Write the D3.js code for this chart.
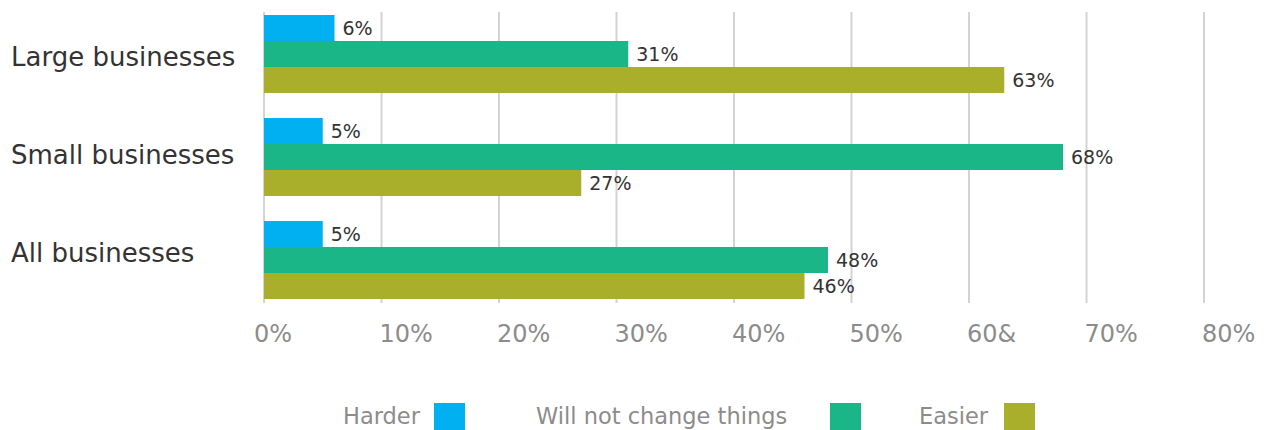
<!DOCTYPE html>
<html>
<head>
<meta charset="utf-8">
<script src="https://cdn.jsdelivr.net/npm/d3@7"></script>
<style>
  html, body { margin: 0; padding: 0; background: #ffffff; }
  svg { display: block; }
  text { font-family: "DejaVu Sans", "Open Sans", sans-serif; }
</style>
</head>
<body>
<svg id="chart" width="1269" height="430"></svg>
<script>
// Survey answers by business size
const categories = ["Large businesses", "Small businesses", "All businesses"];
const seriesNames = ["Harder", "Will not change things", "Easier"];
const harder = [6, 5, 5];
const willNotChange = [31, 68, 48];
const easier = [63, 27, 46];
const tickValues = [0, 10, 20, 30, 40, 50, 60, 70, 80];
const tickLabels = ["0%", "10%", "20%", "30%", "40%", "50%", "60&", "70%", "80%"];

const colors = ["#00b0f0", "#1bb687", "#a9ae2b"];
const seriesValues = [harder, willNotChange, easier];

const svg = d3.select("#chart");

const x = d3.scaleLinear().domain([0, 80]).range([264, 1204]);
const y = d3.scaleBand().domain(categories).range([2.5, 311.5]).paddingInner(0.243).paddingOuter(0.1215);
const ySub = d3.scaleBand().domain(seriesNames).range([0, y.bandwidth()]);
// category captions sit on their own evenly spaced baselines
const yLabel = d3.scalePoint().domain(categories).range([66, 262]);

// vertical grid lines
svg.append("g").selectAll("line")
  .data(tickValues)
  .join("line")
  .attr("x1", d => x(d)).attr("x2", d => x(d))
  .attr("y1", 12).attr("y2", 303)
  .attr("stroke", "#d3d3d3")
  .attr("stroke-width", 2);

// x tick labels
svg.append("g").selectAll("text")
  .data(tickValues)
  .join("text")
  .attr("x", (d, i) => x(d) - (i === 0 ? 10 : 2))
  .attr("y", 342)
  .attr("fill", "#8c8c8c")
  .attr("font-size", 24)
  .text((d, i) => tickLabels[i]);

// category labels
svg.append("g").selectAll("text")
  .data(categories)
  .join("text")
  .attr("x", 11)
  .attr("y", d => yLabel(d))
  .attr("fill", "#333333")
  .attr("font-size", 26)
  .text(d => d);

// bars and value labels
const rows = [];
categories.forEach((c, ci) => {
  seriesNames.forEach((s, si) => {
    rows.push({ cat: c, series: s, value: seriesValues[si][ci], color: colors[si] });
  });
});

svg.append("g").selectAll("rect")
  .data(rows)
  .join("rect")
  .attr("x", x(0))
  .attr("y", d => y(d.cat) + ySub(d.series))
  .attr("width", d => x(d.value) - x(0))
  .attr("height", ySub.bandwidth())
  .attr("fill", d => d.color);

svg.append("g").selectAll("text")
  .data(rows)
  .join("text")
  .attr("x", d => x(d.value) + 8)
  .attr("y", d => y(d.cat) + ySub(d.series) + ySub.bandwidth() / 2 + 7)
  .attr("fill", "#333333")
  .attr("font-size", 19)
  .text(d => d.value + "%");

// legend
const legendText = [343, 536, 919];
const legendBox = [434, 830, 1004];
const legend = svg.append("g");
seriesNames.forEach((s, i) => {
  legend.append("text")
    .attr("x", legendText[i])
    .attr("y", 424)
    .attr("fill", "#8c8c8c")
    .attr("font-size", 22.5)
    .text(s);
  legend.append("rect")
    .attr("x", legendBox[i])
    .attr("y", 403)
    .attr("width", 31)
    .attr("height", 27)
    .attr("fill", colors[i]);
});
</script>
</body>
</html>
